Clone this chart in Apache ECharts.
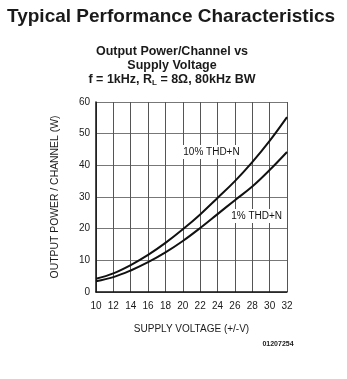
<!DOCTYPE html>
<html><head><meta charset="utf-8">
<script src="https://cdn.jsdelivr.net/npm/echarts@6/dist/echarts.min.js"></script>
<style>html,body{margin:0;padding:0;background:#fff}#c{width:347px;height:379px}</style>
</head><body><div id="c"></div>
<script>
const voltages = [10, 12, 14, 16, 18, 20, 22, 24, 26, 28, 30, 32];
const thd10 = [4.2, 5.9, 8.5, 11.7, 15.5, 19.8, 24.5, 29.7, 35.0, 41.0, 47.7, 55.2];
const thd1 = [3.4, 4.7, 6.8, 9.4, 12.5, 16.1, 20.2, 24.6, 29.0, 33.3, 38.5, 44.2];
const seriesNames = ['10% THD+N', '1% THD+N'];
const labelPos10 = [23.3, 44.2];
const labelPos1 = [28.5, 24];

const font = 'Liberation Sans, Arial, sans-serif';
const chart = echarts.init(document.getElementById('c'));
function pairs(ys){ return voltages.map((v,i)=>[v, ys[i]]); }
function mp(name, pos){
  return { symbol:'rect', symbolSize:[2,2], silent:true, itemStyle:{ color:'rgba(0,0,0,0)' },
    data:[{ coord:pos }],
    label:{ show:true, position:'inside', formatter:name, color:'#111', fontSize:10, fontFamily:font,
      backgroundColor:'#fff', padding:[2,2] } };
}
chart.setOption({
  animation:false,
  title:[
    { text:'Typical Performance Characteristics', left:7, top:7, padding:0,
      textStyle:{ fontFamily:font, fontWeight:'bold', fontSize:19, color:'#1a1a1a' } },
    { text:'{a|Output Power/Channel vs}\n{a|Supply Voltage}\n{a|f = 1kHz, R}{s|L}{a| = 8Ω, 80kHz BW}',
      left:172, textAlign:'center', top:45, padding:0,
      textStyle:{ rich:{
        a:{ fontFamily:font, fontWeight:'bold', fontSize:12.5, color:'#1a1a1a', lineHeight:14 },
        s:{ fontFamily:font, fontWeight:'bold', fontSize:8, color:'#1a1a1a', lineHeight:14, verticalAlign:'bottom', padding:[6,0,0,0] }
      } } },
    { text:'01207254', left:278, textAlign:'center', top:341, padding:0,
      textStyle:{ fontFamily:font, fontWeight:'bold', fontSize:7, color:'#1a1a1a' } }
  ],
  grid:{ left:96, right:60, top:102, bottom:87 },
  xAxis:{ type:'value', min:10, max:32, interval:2,
    name:'SUPPLY VOLTAGE (+/-V)', nameLocation:'middle', nameGap:32,
    nameTextStyle:{ fontFamily:font, fontSize:10, color:'#1a1a1a' },
    axisLine:{ lineStyle:{ color:'#111', width:1.5 } },
    axisTick:{ show:false },
    axisLabel:{ fontFamily:font, fontSize:10, color:'#1a1a1a', margin:9 },
    splitLine:{ show:true, lineStyle:{ color:'#555', width:1 } } },
  yAxis:{ type:'value', min:0, max:60, interval:10,
    name:'OUTPUT POWER / CHANNEL (W)', nameLocation:'middle', nameGap:36,
    nameTextStyle:{ fontFamily:font, fontSize:10.4, color:'#1a1a1a' },
    axisLine:{ show:true, lineStyle:{ color:'#111', width:1.5 } },
    axisTick:{ show:false },
    axisLabel:{ fontFamily:font, fontSize:10, color:'#1a1a1a', margin:6 },
    splitLine:{ show:true, lineStyle:{ color:'#777', width:1 } } },
  series:[
    { type:'line', name:seriesNames[0], data:pairs(thd10), smooth:0.4, symbol:'none',
      lineStyle:{ color:'#111', width:2 }, z:3, markPoint:mp(seriesNames[0], labelPos10) },
    { type:'line', name:seriesNames[1], data:pairs(thd1), smooth:0.4, symbol:'none',
      lineStyle:{ color:'#111', width:2 }, z:3, markPoint:mp(seriesNames[1], labelPos1) }
  ]
});
</script></body></html>
